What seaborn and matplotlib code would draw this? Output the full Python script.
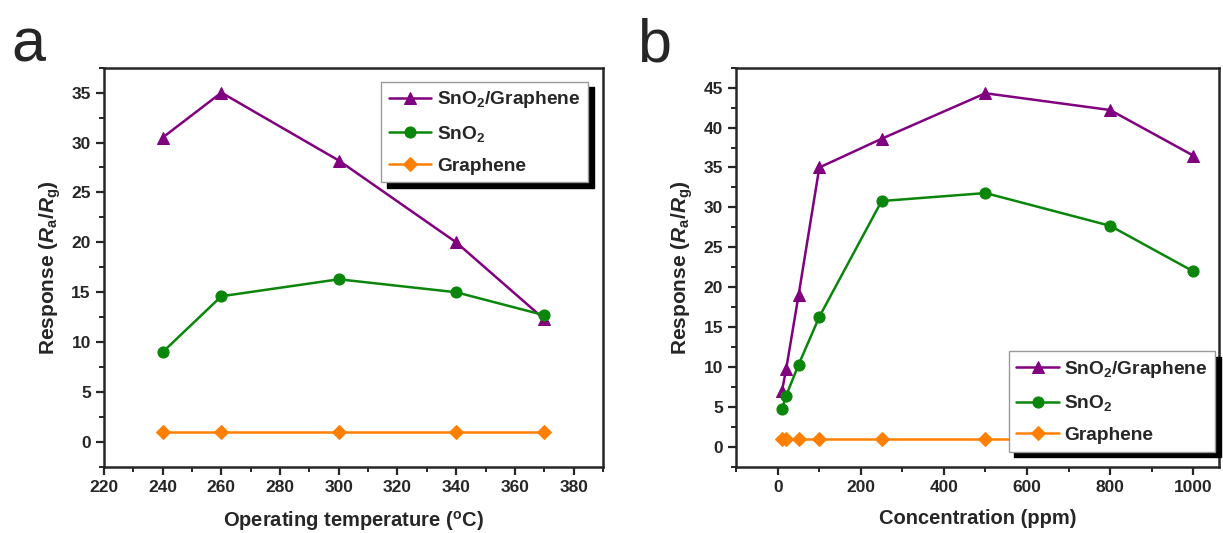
import pandas as pd
import matplotlib.pyplot as plt
import seaborn as sns
from matplotlib.ticker import AutoMinorLocator

# data
temps = [240, 260, 300, 340, 370]
temp_composite = [30.5, 35.0, 28.2, 20.0, 12.3]
temp_sno2 = [9.0, 14.6, 16.3, 15.0, 12.7]
temp_graphene = [1.0, 1.0, 1.0, 1.0, 1.0]

concs = [10, 20, 50, 100, 250, 500, 800, 1000]
conc_composite = [7.0, 9.7, 19.0, 35.0, 38.6, 44.3, 42.2, 36.5]
conc_sno2 = [4.7, 6.4, 10.3, 16.3, 30.8, 31.8, 27.7, 22.0]
conc_graphene = [1.0, 1.0, 1.0, 1.0, 1.0, 1.0, 1.0, 1.0]

temp_ticks = [220, 240, 260, 280, 300, 320, 340, 360, 380]
conc_ticks = [0, 200, 400, 600, 800, 1000]
temp_yticks = [0, 5, 10, 15, 20, 25, 30, 35]
conc_yticks = [0, 5, 10, 15, 20, 25, 30, 35, 40, 45]

names = ['SnO$_2$/Graphene', 'SnO$_2$', 'Graphene']
colors = {names[0]: '#800080', names[1]: '#0a860a', names[2]: '#ff8000'}
markers = {names[0]: '^', names[1]: 'o', names[2]: 'D'}

sns.set_style('ticks')
plt.rcParams['font.family'] = ['Liberation Sans', 'DejaVu Sans']
plt.rcParams['font.weight'] = 'bold'
plt.rcParams['axes.labelweight'] = 'bold'
plt.rcParams['mathtext.fontset'] = 'custom'
plt.rcParams['mathtext.rm'] = 'Liberation Sans:bold'
plt.rcParams['mathtext.it'] = 'Liberation Sans:italic:bold'
plt.rcParams['mathtext.bf'] = 'Liberation Sans:bold'


def long_df(x, a, b, c):
    rows = []
    for vals, n in zip([a, b, c], names):
        for xi, yi in zip(x, vals):
            rows.append({'x': xi, 'y': yi, 'sample': n})
    return pd.DataFrame(rows)


def draw(ax, df, xlim, ylim, xticks, yticks, xlabel, leg_loc, leg_anchor):
    sns.lineplot(data=df, x='x', y='y', hue='sample', style='sample',
                 palette=colors, markers=markers, dashes=False,
                 hue_order=names, style_order=names,
                 markersize=8, linewidth=1.8, ax=ax, legend=False)
    for ln in ax.lines:
        ln.set_markeredgecolor(ln.get_color())
        ln.set_markerfacecolor(ln.get_color())
    ax.lines[2].set_markersize(7)
    ax.set_xlim(*xlim)
    ax.set_ylim(*ylim)
    ax.set_xticks(xticks)
    ax.set_xticklabels([str(t) for t in xticks], fontweight='bold')
    ax.set_yticks(yticks)
    ax.set_yticklabels([str(t) for t in yticks], fontweight='bold')
    ax.xaxis.set_minor_locator(AutoMinorLocator(2))
    ax.yaxis.set_minor_locator(AutoMinorLocator(2))
    ax.tick_params(which='major', direction='out', length=6, width=1.6,
                   labelsize=12.5, top=False, right=False)
    ax.tick_params(which='minor', direction='out', length=3.5, width=1.4,
                   top=False, right=False)
    for sp in ax.spines.values():
        sp.set_linewidth(1.8)
        sp.set_visible(True)
    ax.set_xlabel(xlabel, fontsize=14.5, labelpad=10)
    ax.set_ylabel(r'Response ($R_{\rm a}$/$R_{\rm g}$)', fontsize=15, labelpad=6)
    leg = ax.legend(ax.lines, names, loc=leg_loc, bbox_to_anchor=leg_anchor,
                    borderaxespad=0, fontsize=13.8,
                    frameon=True, fancybox=False, handlelength=2.2,
                    borderpad=0.4, labelspacing=0.7, handletextpad=0.3,
                    shadow={'color': 'black', 'alpha': 1, 'ox': 4, 'oy': -4})
    leg.get_frame().set_edgecolor('#999999')
    leg.get_frame().set_linewidth(1.0)
    for t in leg.get_texts():
        t.set_fontweight('bold')


fig = plt.figure(figsize=(12.23, 5.33), dpi=100)
ax1 = fig.add_axes([0.085, 0.124, 0.408, 0.749])
ax2 = fig.add_axes([0.602, 0.124, 0.395, 0.749])

draw(ax1, long_df(temps, temp_composite, temp_sno2, temp_graphene),
     (220, 390), (-2.5, 37.5), temp_ticks, temp_yticks,
     r'Operating temperature ($^{\rm o}$C)', 'upper right', (0.97, 0.965))
draw(ax2, long_df(concs, conc_composite, conc_sno2, conc_graphene),
     (-100, 1063), (-2.5, 47.5), conc_ticks, conc_yticks,
     'Concentration (ppm)', 'lower right', (0.992, 0.038))

fig.text(0.009, 0.885, 'a', fontsize=44, fontweight='normal')
fig.text(0.521, 0.885, 'b', fontsize=44, fontweight='normal')

plt.savefig('out.png', dpi=100)
